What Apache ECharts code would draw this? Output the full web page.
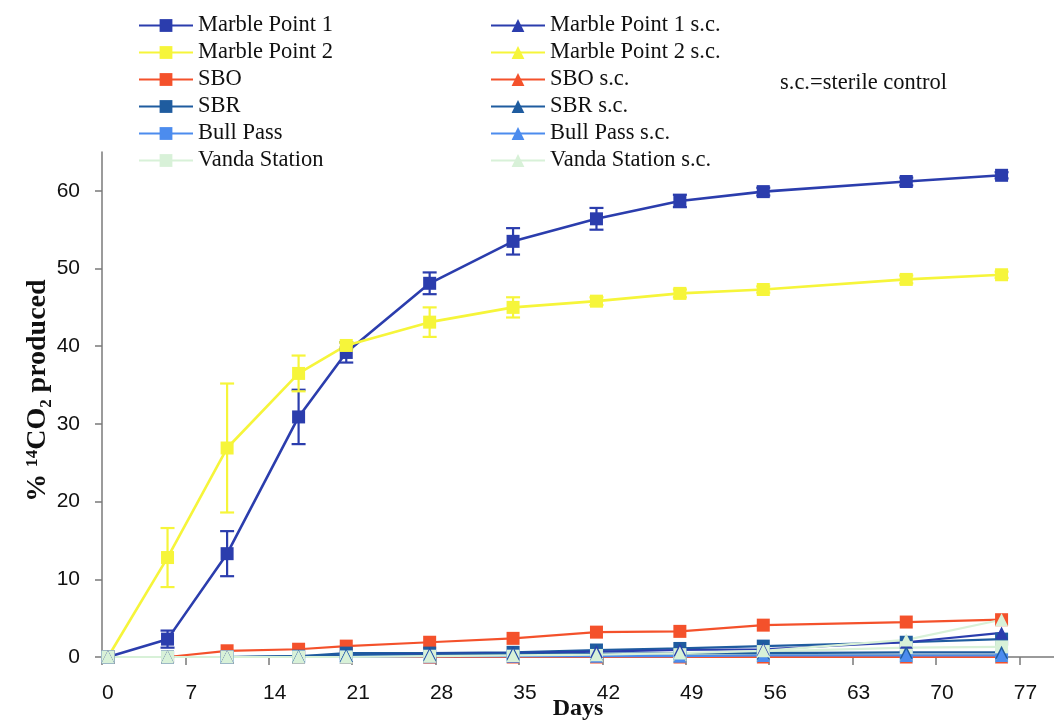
<!DOCTYPE html>
<html>
<head>
<meta charset="utf-8">
<script src="https://cdn.jsdelivr.net/npm/echarts@6/dist/echarts.min.js"></script>
<style>
  html, body { margin: 0; padding: 0; background: #fff; }
  #chart { width: 1054px; height: 721px; }
</style>
</head>
<body>
<div id="chart"></div>
<script>
// Sampling days
const days = [0, 5, 10, 16, 20, 27, 34, 41, 48, 55, 67, 75];

// % 14CO2 produced, live samples
const marblePoint1    = [0, 2.3, 13.3, 30.9, 39.2, 48.1, 53.5, 56.4, 58.7, 59.9, 61.2, 62.0];
const marblePoint1Err = [0, 1.1, 2.9, 3.5, 1.3, 1.4, 1.7, 1.4, 0.8, 0.5, 0.5, 0.4];
const marblePoint2    = [0, 12.8, 26.9, 36.5, 40.1, 43.1, 45.0, 45.8, 46.8, 47.3, 48.6, 49.2];
const marblePoint2Err = [0, 3.8, 8.3, 2.3, 0.4, 1.9, 1.3, 0.5, 0.5, 0.4, 0.5, 0.4];
const sbo             = [0, 0.0, 0.8, 1.0, 1.4, 1.9, 2.4, 3.2, 3.3, 4.1, 4.5, 4.8];
const sbr             = [0, 0.0, 0.0, 0.1, 0.5, 0.5, 0.6, 0.9, 1.1, 1.4, 1.9, 2.3];
const bullPass        = [0, 0.0, 0.0, 0.0, 0.0, 0.0, 0.1, 0.1, 0.1, 0.1, 0.1, 0.1];
const vandaStation    = [0, 0.0, 0.0, 0.0, 0.0, 0.1, 0.1, 0.2, 0.3, 0.7, 1.2, 1.3];

// sterile controls
const marblePoint1SC  = [0, 0.0, 0.0, 0.0, 0.2, 0.4, 0.5, 0.7, 0.9, 1.0, 1.9, 3.1];
const marblePoint2SC  = [0, 0.0, 0.0, 0.0, 0.0, 0.1, 0.1, 0.1, 0.1, 0.2, 0.2, 0.2];
const sboSC           = [0, 0.0, 0.0, 0.0, 0.0, 0.0, 0.0, 0.0, 0.0, 0.0, 0.0, 0.0];
const sbrSC           = [0, 0.0, 0.0, 0.1, 0.2, 0.3, 0.4, 0.4, 0.5, 0.5, 0.6, 0.6];
const bullPassSC      = [0, 0.0, 0.0, 0.0, 0.0, 0.1, 0.1, 0.1, 0.1, 0.2, 0.2, 0.2];
const vandaStationSC  = [0, 0.0, 0.0, 0.0, 0.0, 0.1, 0.2, 0.3, 0.5, 0.8, 2.2, 4.8];

const xTickValues  = [0, 7, 14, 21, 28, 35, 42, 49, 56, 63, 70, 77];
const yTickValues  = [0, 10, 20, 30, 40, 50, 60];

const COLORS = {
  mp1: '#2b3dad',
  mp2: '#f6f53a',
  sbo: '#f4512b',
  sbr: '#1f5c9f',
  bull: '#4c8cee',
  vanda: '#d8f1d8'
};

const pairs = (ys) => days.map((d, i) => [d, ys[i]]);

function lineSeries(name, ys, color, symbol, width) {
  return {
    name: name,
    type: 'line',
    data: pairs(ys),
    symbol: symbol,
    symbolSize: 13,
    showAllSymbol: true,
    clip: false,
    lineStyle: { color: color, width: width },
    itemStyle: { color: color, borderWidth: 0 },
    emphasis: { disabled: true },
    animation: false
  };
}

function errorSeries(ys, errs, color) {
  const data = [];
  days.forEach((d, i) => { if (errs[i] > 0) data.push([d, ys[i], errs[i]]); });
  return {
    type: 'custom',
    data: data,
    encode: { x: 0, y: 1 },
    clip: false,
    silent: true,
    animation: false,
    renderItem: function (params, api) {
      const x = api.value(0), y = api.value(1), e = api.value(2);
      const top = api.coord([x, y + e]);
      const bot = api.coord([x, y - e]);
      const hw = 7;
      const style = { stroke: color, lineWidth: 2.2, fill: null };
      return {
        type: 'group',
        children: [
          { type: 'line', shape: { x1: top[0], y1: top[1], x2: bot[0], y2: bot[1] }, style: style },
          { type: 'line', shape: { x1: top[0] - hw, y1: top[1], x2: top[0] + hw, y2: top[1] }, style: style },
          { type: 'line', shape: { x1: bot[0] - hw, y1: bot[1], x2: bot[0] + hw, y2: bot[1] }, style: style }
        ]
      };
    }
  };
}

const serif = '"Liberation Serif", "Times New Roman", serif';
const sans = '"Liberation Sans", Arial, sans-serif';

const legendText = { fontFamily: serif, fontSize: 22.5, color: '#111', lineHeight: 22 };

const chart = echarts.init(document.getElementById('chart'), null, { renderer: 'canvas' });

chart.setOption({
  backgroundColor: '#ffffff',
  animation: false,
  grid: { left: 102, right: 0, top: 152, bottom: 64, outerBoundsMode: 'none', containLabel: false },
  legend: [
    {
      orient: 'vertical', left: 133, top: 9,
      itemWidth: 54, itemHeight: 16, itemGap: 4,
      textStyle: legendText,
      selectedMode: false,
      data: ['Marble Point 1', 'Marble Point 2', 'SBO', 'SBR', 'Bull Pass', 'Vanda Station']
    },
    {
      orient: 'vertical', left: 485, top: 9,
      itemWidth: 54, itemHeight: 16, itemGap: 4,
      textStyle: legendText,
      selectedMode: false,
      data: ['Marble Point 1 s.c.', 'Marble Point 2 s.c.', 'SBO s.c.', 'SBR s.c.', 'Bull Pass s.c.', 'Vanda Station s.c.']
    }
  ],
  graphic: [
    {
      type: 'text', left: 780, top: 72,
      style: { text: 's.c.=sterile control', font: '22.5px ' + serif, fill: '#111' }
    }
  ],
  xAxis: {
    type: 'value',
    min: -0.5,
    max: 79.4,
    name: 'Days',
    nameLocation: 'middle',
    nameGap: 40,
    nameMoveOverlap: false,
    nameTextStyle: { fontFamily: serif, fontWeight: 'bold', fontSize: 24, color: '#111' },
    axisLine: { show: true, onZero: false, lineStyle: { color: '#7a7a7a', width: 1.5 } },
    axisTick: { show: true, length: 8, lineStyle: { color: '#7a7a7a', width: 1.5 },
      customValues: xTickValues.map(v => v - 0.5) },
    axisLabel: { fontFamily: sans, fontSize: 21, color: '#111', margin: 26,
      customValues: xTickValues, showMinLabel: true, showMaxLabel: true },
    splitLine: { show: false }
  },
  yAxis: {
    type: 'value',
    min: 0,
    max: 65,
    name: '% ¹⁴CO₂ produced',
    nameLocation: 'middle',
    nameGap: 50,
    nameRotate: 90,
    nameMoveOverlap: false,
    nameTextStyle: { fontFamily: serif, fontWeight: 'bold', fontSize: 28, color: '#111', padding: [0, 0, 0, 28] },
    axisLine: { show: true, onZero: false, lineStyle: { color: '#7a7a7a', width: 1.5 } },
    axisTick: { show: true, length: 7, lineStyle: { color: '#7a7a7a', width: 1.5 },
      customValues: yTickValues },
    axisLabel: { fontFamily: sans, fontSize: 21, color: '#111', margin: 22,
      customValues: yTickValues },
    splitLine: { show: false }
  },
  series: [
    errorSeries(marblePoint1, marblePoint1Err, COLORS.mp1),
    lineSeries('Marble Point 1', marblePoint1, COLORS.mp1, 'rect', 2.6),
    errorSeries(marblePoint2, marblePoint2Err, COLORS.mp2),
    lineSeries('Marble Point 2', marblePoint2, COLORS.mp2, 'rect', 2.6),
    lineSeries('SBO', sbo, COLORS.sbo, 'rect', 2.2),
    lineSeries('SBR', sbr, COLORS.sbr, 'rect', 2.2),
    lineSeries('Bull Pass', bullPass, COLORS.bull, 'rect', 2.2),
    lineSeries('Vanda Station', vandaStation, COLORS.vanda, 'rect', 2.2),
    lineSeries('Marble Point 1 s.c.', marblePoint1SC, COLORS.mp1, 'triangle', 2.2),
    lineSeries('Marble Point 2 s.c.', marblePoint2SC, COLORS.mp2, 'triangle', 2.2),
    lineSeries('SBO s.c.', sboSC, COLORS.sbo, 'triangle', 2.2),
    lineSeries('SBR s.c.', sbrSC, COLORS.sbr, 'triangle', 2.2),
    lineSeries('Bull Pass s.c.', bullPassSC, COLORS.bull, 'triangle', 2.2),
    lineSeries('Vanda Station s.c.', vandaStationSC, COLORS.vanda, 'triangle', 2.2)
  ]
});
</script>
</body>
</html>
